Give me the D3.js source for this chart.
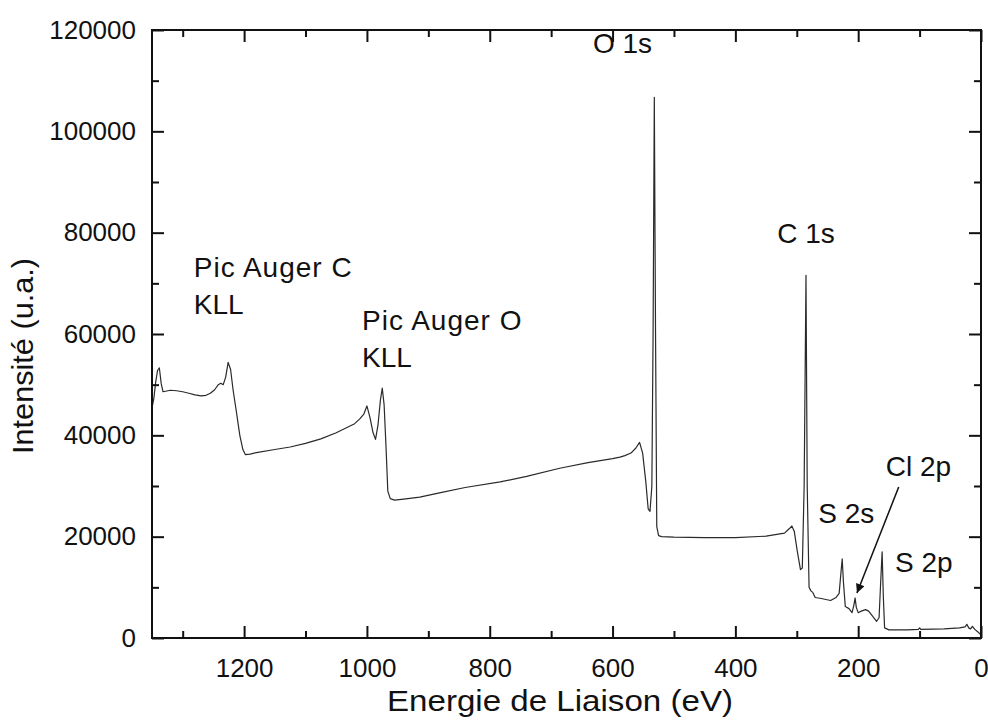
<!DOCTYPE html>
<html><head><meta charset="utf-8">
<script src="https://cdn.jsdelivr.net/npm/d3@7/dist/d3.min.js"></script>
<style>
body{margin:0;background:#fff}
text{font-family:"Liberation Sans",Arial,Helvetica,sans-serif;fill:#111}
</style>
</head><body>
<svg id="chart" width="988" height="724"></svg>
<script>
// ---- data (binding energy in eV, intensity in a.u.) ----
const energy = [1350,1347,1344,1341,1338,1335,1332,1328,1320,1310,1300,1290,1280,1270,1262,1255,1248,1242,1238,1234,1230,1226,1222,1218,1213,1207,1202,1198,1190,1180,1150,1125,1100,1075,1050,1030,1020,1012,1005,1000,995,990,986,982,978,975,972,969,966,962,955,940,914,880,840,783,740,686,640,600,588,580,570,562,556,551,546,542,539,536,534,532,530,528,525,520,500,450,400,350,320,312,308,304,299,294,291,288,285,283,280,277,274,270,260,245,236,231,228,226,224,221,215,210,207,205,203,200,195,188,183,176,170,166,163,161,159,157,150,120,102,100,98,60,35,26,23,20,17,14,10,5,0];
const intensity = [45400,47300,50500,52800,53300,50200,48600,48700,48900,48800,48600,48300,48000,47800,47900,48300,49000,50000,50300,50000,51500,54400,53000,49000,45000,40000,37200,36200,36300,36600,37200,37700,38400,39300,40500,41700,42300,43200,44200,45800,43500,40500,39200,42000,47000,49300,46000,38000,29000,27500,27200,27400,27800,28700,29700,30800,31900,33500,34600,35400,35700,36000,36500,37500,38600,36500,31000,25500,25000,30000,60000,106700,60000,22000,20200,20000,19900,19800,19800,20100,20700,21600,22100,21000,17000,13500,13800,30000,71600,30000,10000,9300,9000,8000,7800,7400,8000,8800,13000,15600,11000,6200,5800,5000,6500,7900,6000,5000,5300,5600,5300,4200,3300,4000,12000,17000,8000,2000,1600,1600,1700,2000,1700,1800,2000,2200,2700,2000,1800,2300,1700,1200,600];

const xTickValues = [1200,1000,800,600,400,200,0];
const xMinorValues = [1300,1100,900,700,500,300,100];
const yTickValues = [0,20000,40000,60000,80000,100000,120000];
const yMinorValues = [10000,30000,50000,70000,90000,110000];

const annText = ["O 1s","C 1s","Pic Auger C","KLL","Pic Auger O","KLL","Cl 2p","S 2s","S 2p"];
const annEnergy = [632,332,1282,1282,1008,1008,155,265,140];
const annInt = [115500,78000,71200,64000,60800,53500,31900,22700,13000];

const arrowFrom = [134,29800];
const arrowTo = [202,8900];

const xTitle = "Energie de Liaison (eV)";
const yTitle = "Intensité (u.a.)";

// ---- layout ----
const L=152, R=981, T=30, B=638;
const svg = d3.select("#chart");
const x = d3.scaleLinear().domain([1350,0]).range([L,R]);
const y = d3.scaleLinear().domain([0,120000]).range([B,T]);

// spectrum
const pts = energy.map((e,i)=>[e,intensity[i]]);
svg.append("path").datum(pts)
  .attr("fill","none").attr("stroke","#2a2a2a").attr("stroke-width",1.2)
  .attr("stroke-linejoin","round")
  .attr("d", d3.line().x(d=>x(d[0])).y(d=>y(d[1])));

// axes (inward ticks, mirrored)
function styleAxis(g){
  g.select(".domain").remove();
  g.selectAll(".tick line").attr("stroke","#111").attr("stroke-width",2);
  g.selectAll(".tick text").attr("font-size",26).attr("fill","#111")
   .attr("font-family","'Liberation Sans',Arial,sans-serif");
}
svg.append("g").attr("transform",`translate(0,${B})`)
  .call(d3.axisBottom(x).tickValues(xTickValues).tickSize(-12).tickPadding(21).tickFormat(d3.format("d")))
  .call(styleAxis);
svg.append("g").attr("transform",`translate(0,${B})`)
  .call(d3.axisBottom(x).tickValues(xMinorValues).tickSize(-7).tickFormat(""))
  .call(styleAxis);
svg.append("g").attr("transform",`translate(0,${T})`)
  .call(d3.axisTop(x).tickValues(xTickValues).tickSize(-12).tickFormat(""))
  .call(styleAxis);
svg.append("g").attr("transform",`translate(0,${T})`)
  .call(d3.axisTop(x).tickValues(xMinorValues).tickSize(-7).tickFormat(""))
  .call(styleAxis);
svg.append("g").attr("transform",`translate(${L},0)`)
  .call(d3.axisLeft(y).tickValues(yTickValues).tickSize(-12).tickPadding(16).tickFormat(d3.format("d")))
  .call(styleAxis);
svg.append("g").attr("transform",`translate(${L},0)`)
  .call(d3.axisLeft(y).tickValues(yMinorValues).tickSize(-7).tickFormat(""))
  .call(styleAxis);
svg.append("g").attr("transform",`translate(${R},0)`)
  .call(d3.axisRight(y).tickValues(yTickValues).tickSize(-12).tickFormat(""))
  .call(styleAxis);
svg.append("g").attr("transform",`translate(${R},0)`)
  .call(d3.axisRight(y).tickValues(yMinorValues).tickSize(-7).tickFormat(""))
  .call(styleAxis);

// frame
svg.append("rect").attr("x",L).attr("y",T).attr("width",R-L).attr("height",B-T)
  .attr("fill","none").attr("stroke","#111").attr("stroke-width",2);

// axis titles
svg.append("text").attr("x",560).attr("y",711).attr("text-anchor","middle")
  .attr("font-size",30).attr("textLength",346).attr("lengthAdjust","spacingAndGlyphs")
  .text(xTitle);
svg.append("text").attr("transform",`translate(33,356) rotate(-90)`)
  .attr("text-anchor","middle").attr("font-size",30)
  .attr("textLength",196).attr("lengthAdjust","spacingAndGlyphs").text(yTitle);

// annotations
svg.selectAll("text.ann").data(annText).enter().append("text")
  .attr("class","ann").attr("font-size",28)
  .attr("letter-spacing",d=>d.startsWith("Pic")?1:0)
  .attr("x",(d,i)=>x(annEnergy[i])).attr("y",(d,i)=>y(annInt[i])).text(d=>d);

// arrow
svg.append("defs").append("marker").attr("id","ah")
  .attr("viewBox","0 0 10 10").attr("refX",10).attr("refY",5)
  .attr("markerWidth",11).attr("markerHeight",9).attr("markerUnits","userSpaceOnUse")
  .attr("orient","auto")
  .append("path").attr("d","M0,0 L10,5 L0,10 z").attr("fill","#111");
svg.append("line")
  .attr("x1",x(arrowFrom[0])).attr("y1",y(arrowFrom[1]))
  .attr("x2",x(arrowTo[0])).attr("y2",y(arrowTo[1]))
  .attr("stroke","#111").attr("stroke-width",1.5).attr("marker-end","url(#ah)");
</script>
</body></html>
